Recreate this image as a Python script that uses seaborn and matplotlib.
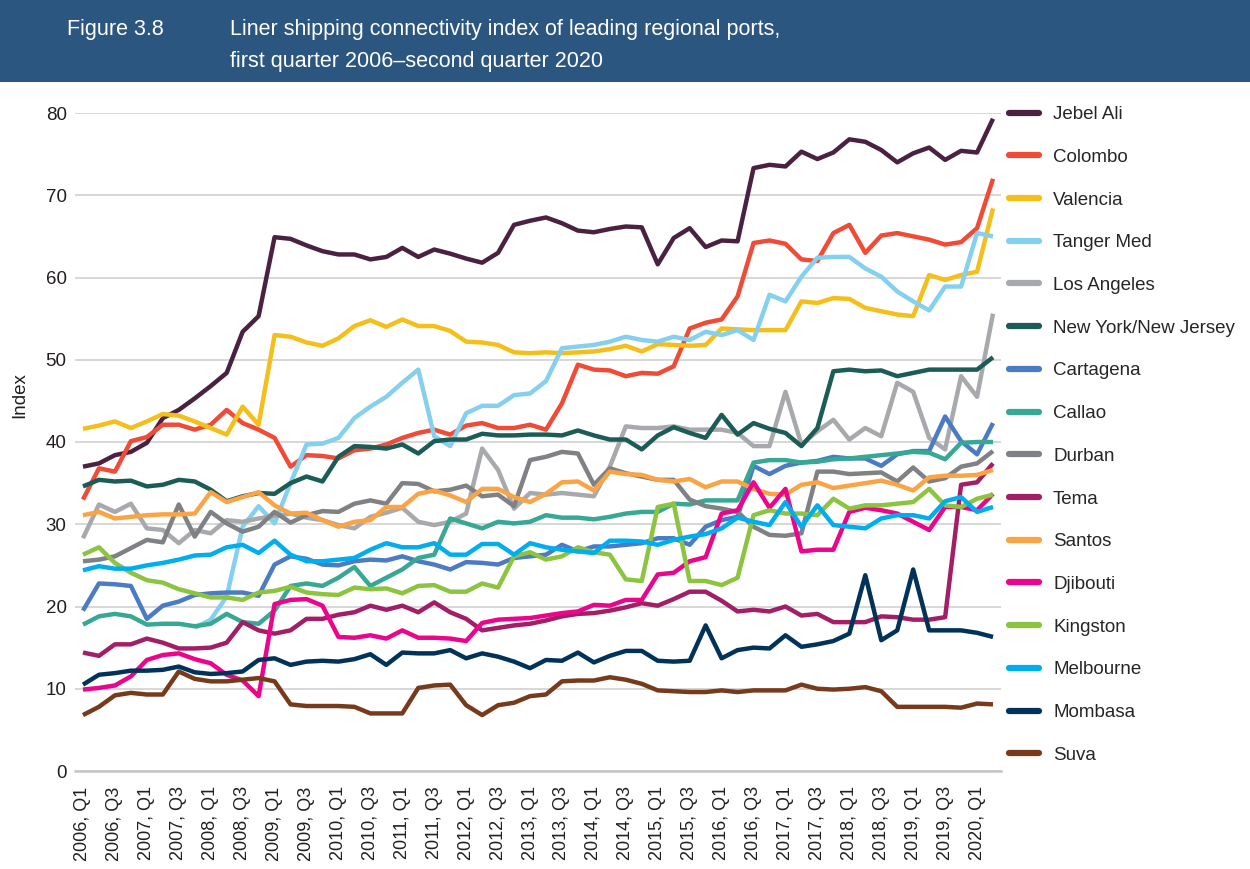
import matplotlib
matplotlib.use("Agg")
import matplotlib.pyplot as plt
from matplotlib.lines import Line2D
from matplotlib.patches import Rectangle
import numpy as np
import pandas as pd
import seaborn as sns

# Quarterly periods, 2006 Q1 to 2020 Q2
quarters = [f"{y}, Q{q}" for y in range(2006, 2021) for q in range(1, 5)][:58]

jebel_ali = [37.0, 37.4, 38.4, 38.8, 39.9, 42.9, 43.9, 45.3, 46.8, 48.4,
             53.4, 55.3, 64.9, 64.7, 63.9, 63.2, 62.8, 62.8, 62.2, 62.5,
             63.6, 62.5, 63.4, 62.9, 62.3, 61.8, 63.0, 66.4, 66.9, 67.3,
             66.6, 65.7, 65.5, 65.9, 66.2, 66.1, 61.6, 64.8, 66.0, 63.7,
             64.5, 64.4, 73.3, 73.7, 73.5, 75.3, 74.4, 75.2, 76.8, 76.5,
             75.5, 74.0, 75.1, 75.8, 74.3, 75.4, 75.2, 79.3]
colombo = [33.0, 36.8, 36.4, 40.1, 40.6, 42.1, 42.1, 41.5, 42.1, 43.9,
           42.3, 41.5, 40.5, 37.0, 38.4, 38.3, 38.0, 39.0, 39.2, 39.7,
           40.5, 41.1, 41.5, 40.9, 42.0, 42.3, 41.7, 41.7, 42.1, 41.5,
           44.7, 49.4, 48.8, 48.7, 48.0, 48.4, 48.3, 49.2, 53.8, 54.5,
           54.9, 57.7, 64.2, 64.5, 64.1, 62.2, 62.0, 65.4, 66.4, 63.0,
           65.1, 65.4, 65.0, 64.6, 64.0, 64.3, 66.0, 72.0]
valencia = [41.6, 42.0, 42.5, 41.7, 42.5, 43.4, 43.2, 42.5, 41.7, 40.9,
            44.3, 42.1, 53.0, 52.8, 52.1, 51.7, 52.6, 54.1, 54.8, 54.0,
            54.9, 54.1, 54.1, 53.5, 52.2, 52.1, 51.8, 50.9, 50.8, 50.9,
            50.8, 50.9, 51.0, 51.3, 51.7, 51.0, 51.9, 51.8, 51.7, 51.8,
            53.8, 53.7, 53.6, 53.6, 53.6, 57.1, 56.9, 57.5, 57.4, 56.3,
            55.9, 55.5, 55.3, 60.3, 59.7, 60.3, 60.7, 68.4]
tanger_med = [np.nan, np.nan, np.nan, np.nan, np.nan, np.nan, np.nan, 17.4, 18.4, 21.2,
              29.7, 32.2, 30.1, 35.0, 39.7, 39.8, 40.5, 42.9, 44.3, 45.5,
              47.2, 48.8, 40.7, 39.5, 43.5, 44.4, 44.4, 45.7, 45.9, 47.4,
              51.4, 51.6, 51.8, 52.2, 52.8, 52.4, 52.2, 52.8, 52.4, 53.4,
              53.0, 53.6, 52.4, 57.9, 57.1, 60.1, 62.4, 62.5, 62.5, 61.1,
              60.1, 58.3, 57.1, 56.0, 58.9, 58.9, 65.4, 65.0]
los_angeles = [28.3, 32.4, 31.5, 32.5, 29.5, 29.3, 27.7, 29.3, 28.9, 30.5,
               30.3, 30.7, 31.0, 31.3, 30.8, 30.5, 29.9, 29.5, 30.9, 31.4,
               32.0, 30.3, 29.9, 30.3, 31.3, 39.2, 36.6, 31.9, 33.8, 33.6,
               33.8, 33.6, 33.4, 37.0, 41.9, 41.7, 41.7, 41.9, 41.5, 41.5,
               41.5, 41.1, 39.5, 39.5, 46.1, 39.7, 41.3, 42.7, 40.3, 41.7,
               40.7, 47.2, 46.1, 40.5, 39.1, 48.0, 45.5, 55.6]
new_york = [34.6, 35.4, 35.2, 35.3, 34.6, 34.8, 35.4, 35.2, 34.2, 32.8,
            33.4, 33.8, 33.7, 35.0, 35.8, 35.2, 38.2, 39.5, 39.4, 39.2,
            39.7, 38.6, 40.1, 40.3, 40.3, 41.0, 40.8, 40.8, 40.9, 40.9,
            40.8, 41.4, 40.8, 40.3, 40.3, 39.1, 40.8, 41.8, 41.1, 40.5,
            43.3, 40.9, 42.3, 41.6, 41.1, 39.5, 41.7, 48.6, 48.8, 48.6,
            48.7, 48.0, 48.4, 48.8, 48.8, 48.8, 48.8, 50.3]
cartagena = [19.5, 22.8, 22.7, 22.5, 18.5, 20.1, 20.6, 21.4, 21.6, 21.7,
             21.7, 21.3, 25.1, 26.1, 25.8, 25.1, 25.0, 25.5, 25.7, 25.6,
             26.1, 25.5, 25.1, 24.5, 25.4, 25.3, 25.1, 25.9, 26.1, 26.3,
             27.5, 26.7, 27.3, 27.3, 27.5, 27.7, 28.3, 28.3, 27.5, 29.7,
             30.5, 30.9, 37.1, 36.1, 37.1, 37.5, 37.7, 38.2, 38.0, 38.0,
             37.1, 38.5, 38.9, 38.9, 43.1, 40.1, 38.5, 42.3]
callao = [17.8, 18.8, 19.1, 18.8, 17.8, 17.9, 17.9, 17.6, 17.9, 19.1,
          18.1, 17.9, 19.5, 22.5, 22.8, 22.5, 23.5, 24.8, 22.5, 23.5,
          24.5, 25.9, 26.3, 30.7, 30.1, 29.5, 30.3, 30.1, 30.3, 31.1,
          30.8, 30.8, 30.6, 30.9, 31.3, 31.5, 31.5, 32.5, 32.4, 32.9,
          32.9, 32.9, 37.5, 37.8, 37.8, 37.5, 37.6, 37.9, 38.0, 38.2,
          38.4, 38.6, 38.8, 38.7, 37.9, 39.9, 40.0, 40.0]
durban = [25.5, 25.7, 26.1, 27.1, 28.1, 27.8, 32.4, 28.5, 31.5, 30.1,
          29.1, 29.7, 31.5, 30.2, 31.1, 31.6, 31.5, 32.5, 32.9, 32.5,
          35.0, 34.9, 34.0, 34.2, 34.7, 33.4, 33.6, 32.2, 37.8, 38.2,
          38.8, 38.6, 34.8, 36.8, 36.2, 35.8, 35.4, 35.4, 33.0, 32.2,
          31.9, 31.5, 29.7, 28.7, 28.6, 28.9, 36.4, 36.4, 36.1, 36.2,
          36.3, 35.2, 36.9, 35.2, 35.6, 37.0, 37.4, 38.9]
tema = [14.4, 14.0, 15.4, 15.4, 16.1, 15.6, 14.9, 14.9, 15.0, 15.6,
        18.1, 17.1, 16.7, 17.1, 18.5, 18.5, 19.0, 19.3, 20.1, 19.6,
        20.1, 19.3, 20.5, 19.3, 18.5, 17.1, 17.4, 17.7, 17.9, 18.3,
        18.8, 19.1, 19.2, 19.5, 19.9, 20.4, 20.1, 20.9, 21.8, 21.8,
        20.7, 19.4, 19.6, 19.4, 20.0, 18.9, 19.1, 18.1, 18.1, 18.1,
        18.8, 18.7, 18.4, 18.4, 18.7, 34.8, 35.1, 37.4]
santos = [31.1, 31.5, 30.7, 30.9, 31.1, 31.2, 31.2, 31.3, 33.9, 32.7,
          33.3, 33.9, 32.3, 31.3, 31.4, 30.5, 29.7, 30.3, 30.5, 32.1,
          32.1, 33.7, 34.1, 33.5, 32.7, 34.3, 34.3, 33.3, 32.7, 33.7,
          35.1, 35.2, 34.1, 36.4, 36.1, 36.0, 35.4, 35.2, 35.5, 34.5,
          35.2, 35.2, 34.3, 33.7, 33.6, 34.8, 35.1, 34.4, 34.7, 35.0,
          35.3, 34.8, 34.1, 35.7, 35.9, 35.9, 36.0, 36.6]
djibouti = [9.9, 10.1, 10.4, 11.5, 13.5, 14.1, 14.3, 13.6, 13.1, 11.7,
            11.0, 9.1, 20.3, 20.8, 20.9, 20.1, 16.3, 16.2, 16.5, 16.1,
            17.1, 16.2, 16.2, 16.1, 15.8, 18.0, 18.4, 18.5, 18.6, 18.9,
            19.2, 19.4, 20.2, 20.1, 20.8, 20.8, 23.9, 24.1, 25.5, 26.0,
            31.3, 31.7, 35.1, 32.0, 34.3, 26.7, 26.9, 26.9, 31.5, 32.0,
            31.7, 31.3, 30.3, 29.3, 32.1, 32.1, 31.7, 33.7]
kingston = [26.3, 27.2, 25.3, 24.1, 23.2, 22.9, 22.1, 21.6, 21.1, 21.1,
            20.8, 21.7, 21.9, 22.4, 21.7, 21.5, 21.4, 22.3, 22.1, 22.2,
            21.6, 22.5, 22.6, 21.8, 21.8, 22.8, 22.3, 26.1, 26.6, 25.7,
            26.1, 27.2, 26.6, 26.3, 23.3, 23.1, 32.1, 32.5, 23.1, 23.1,
            22.6, 23.5, 31.1, 31.7, 31.3, 31.3, 31.1, 33.1, 31.9, 32.3,
            32.3, 32.5, 32.7, 34.3, 32.3, 32.1, 33.1, 33.6]
melbourne = [24.4, 24.9, 24.6, 24.6, 25.0, 25.3, 25.7, 26.2, 26.3, 27.2,
             27.5, 26.5, 28.0, 26.3, 25.5, 25.5, 25.7, 25.9, 26.9, 27.7,
             27.2, 27.2, 27.7, 26.3, 26.3, 27.6, 27.6, 26.3, 27.7, 27.2,
             26.9, 26.7, 26.5, 28.0, 28.0, 27.9, 27.5, 28.1, 28.5, 28.8,
             29.5, 30.8, 30.3, 29.9, 32.7, 29.7, 32.3, 29.9, 29.7, 29.5,
             30.7, 31.1, 31.1, 30.7, 32.8, 33.3, 31.5, 32.1]
mombasa = [10.5, 11.7, 11.9, 12.2, 12.2, 12.3, 12.7, 12.0, 11.8, 11.9,
           12.1, 13.5, 13.7, 12.9, 13.3, 13.4, 13.3, 13.6, 14.2, 12.9,
           14.4, 14.3, 14.3, 14.7, 13.7, 14.3, 13.9, 13.3, 12.5, 13.5,
           13.4, 14.4, 13.2, 14.0, 14.6, 14.6, 13.4, 13.3, 13.4, 17.7,
           13.7, 14.7, 15.0, 14.9, 16.5, 15.1, 15.4, 15.8, 16.7, 23.8,
           15.9, 17.1, 24.5, 17.1, 17.1, 17.1, 16.8, 16.3]
suva = [6.8, 7.8, 9.2, 9.5, 9.3, 9.3, 12.1, 11.2, 10.9, 10.9,
        11.1, 11.3, 10.9, 8.1, 7.9, 7.9, 7.9, 7.8, 7.0, 7.0,
        7.0, 10.1, 10.4, 10.5, 8.0, 6.8, 8.0, 8.3, 9.1, 9.3,
        10.9, 11.0, 11.0, 11.4, 11.1, 10.6, 9.8, 9.7, 9.6, 9.6,
        9.8, 9.6, 9.8, 9.8, 9.8, 10.5, 10.0, 9.9, 10.0, 10.2,
        9.7, 7.8, 7.8, 7.8, 7.8, 7.7, 8.2, 8.1]

ports = ["Jebel Ali", "Colombo", "Valencia", "Tanger Med", "Los Angeles",
         "New York/New Jersey", "Cartagena", "Callao", "Durban", "Tema",
         "Santos", "Djibouti", "Kingston", "Melbourne", "Mombasa", "Suva"]
series = [jebel_ali, colombo, valencia, tanger_med, los_angeles, new_york,
          cartagena, callao, durban, tema, santos, djibouti, kingston,
          melbourne, mombasa, suva]
colors = ["#4a2140", "#ef4b37", "#f4bf1b", "#85d0ef", "#a7a9ac", "#1b5c56",
          "#4b7bc3", "#36a893", "#7f8184", "#a21f67", "#fba446", "#ec058c",
          "#8cc43f", "#00aeef", "#01335a", "#773b1c"]
palette = dict(zip(ports, colors))

rows = []
for name, vals in zip(ports, series):
    for i, v in enumerate(vals):
        rows.append({"period": i, "port": name, "index": v})
df = pd.DataFrame(rows).dropna()

sns.set_theme(style="white")
plt.rcParams["font.family"] = ["Liberation Sans", "DejaVu Sans"]

W, H = 1250, 869
fig = plt.figure(figsize=(W / 100, H / 100), dpi=100)

# Header band
fig.add_artist(Rectangle((0, 1 - 82 / H), 1, 82 / H, transform=fig.transFigure,
                         facecolor="#2b5680", edgecolor="none"))
fig.text(67 / W, 1 - 30 / H, "Figure 3.8", color="white", fontsize=15.5,
         va="center", ha="left")
fig.text(230 / W, 1 - 30 / H, "Liner shipping connectivity index of leading regional ports,",
         color="white", fontsize=15.5, va="center", ha="left")
fig.text(230 / W, 1 - 61 / H, "first quarter 2006\u2013second quarter 2020",
         color="white", fontsize=15.5, va="center", ha="left")

ax = fig.add_axes([75 / W, 98 / H, (1001 - 75) / W, (771 - 113) / H])
sns.lineplot(data=df, x="period", y="index", hue="port", hue_order=ports,
             palette=palette, linewidth=3.2, errorbar=None, legend=False,
             ax=ax, solid_capstyle="butt")

ax.set_xlim(-0.5, len(quarters) - 0.5)
ax.set_ylim(0, 80)
ax.set_yticks(range(0, 81, 10))
ax.set_xticks(range(0, len(quarters), 2))
ax.set_xticklabels(quarters[::2], rotation=90, fontsize=13)
ax.tick_params(axis="y", labelsize=13.5, length=0, pad=6, colors="#231f20")
ax.tick_params(axis="x", length=0, pad=11, colors="#231f20")
ax.set_xlabel("")
ax.set_ylabel("")
ax.grid(axis="y", color="#d4d4d4", linewidth=1.3)
ax.set_axisbelow(True)
for s in ["left", "top", "right"]:
    ax.spines[s].set_visible(False)
ax.spines["bottom"].set_color("#c6c6c6")
ax.spines["bottom"].set_linewidth(1.8)

fig.text(20 / W, 1 - 395 / H, "Index", rotation=90, fontsize=13.5,
         va="center", ha="center", color="#231f20")

handles = [Line2D([0], [0], color=c, linewidth=4.5) for c in colors]
fig.legend(handles, ports, loc="upper left", bbox_to_anchor=(1009 / W, 1 - 106 / H),
           frameon=False, fontsize=13.5, labelspacing=1.365, handlelength=1.6,
           handletextpad=0.75, borderaxespad=0, borderpad=0)

fig.savefig("out.png", dpi=100, facecolor="white")
